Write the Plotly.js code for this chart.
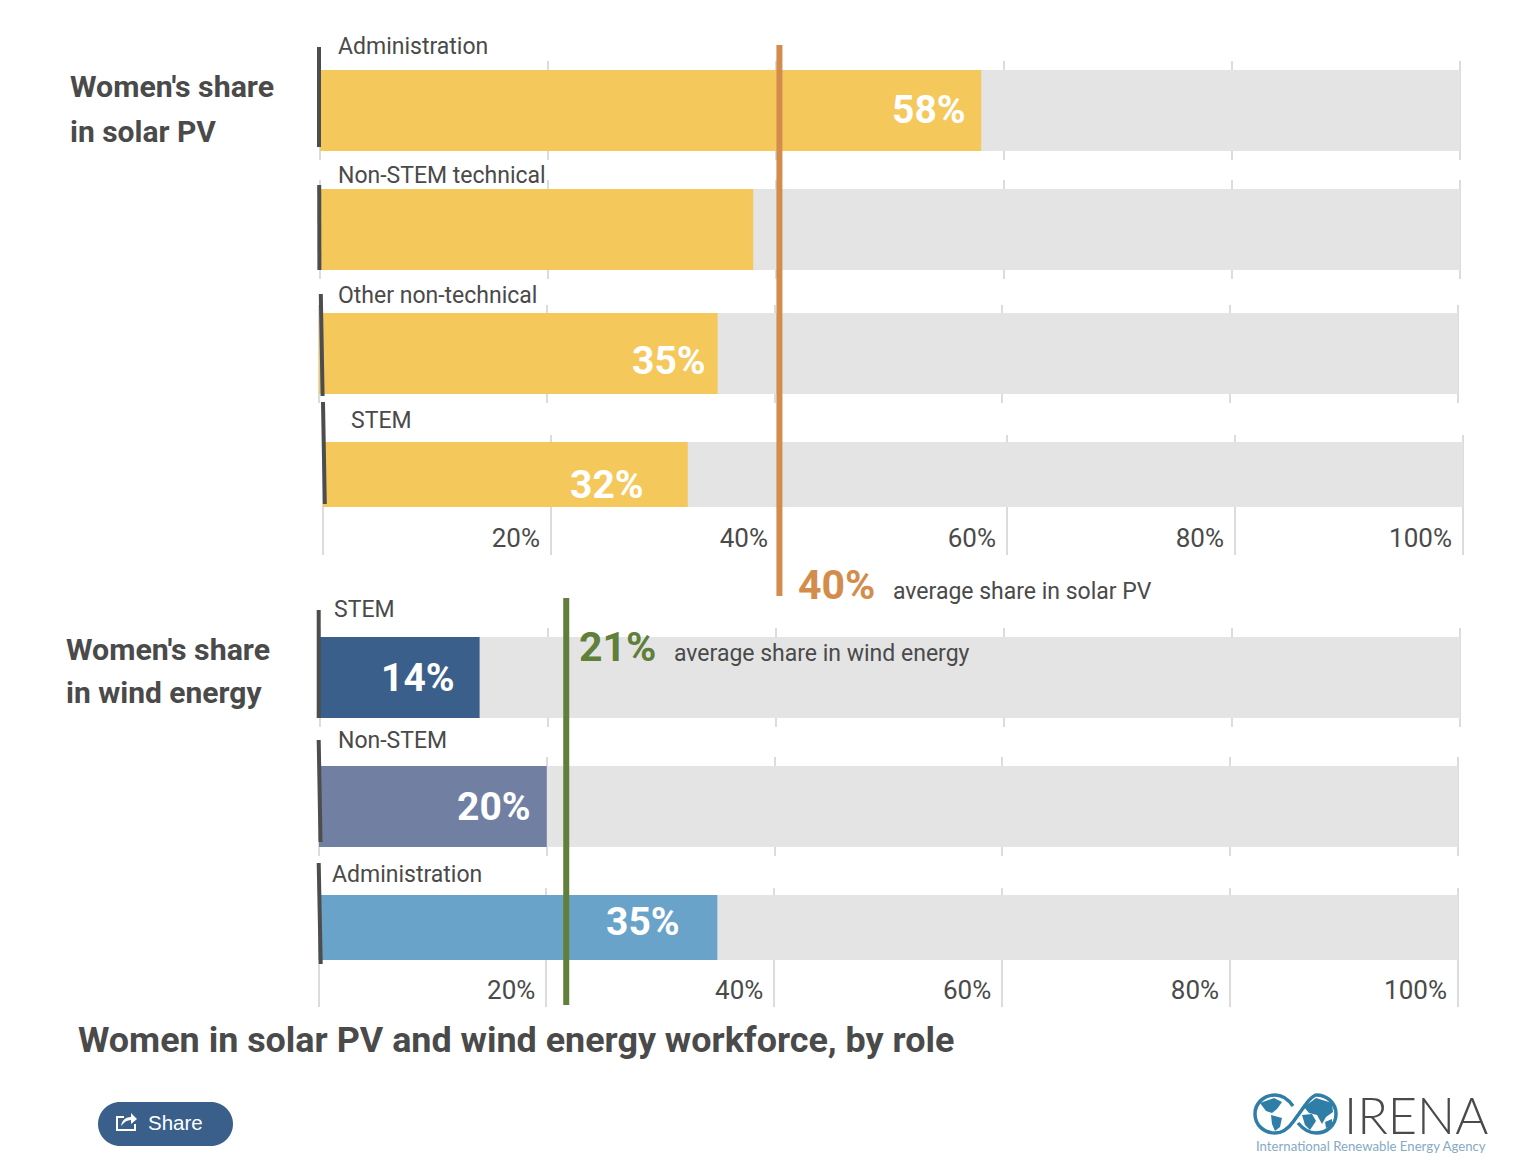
<!DOCTYPE html>
<html>
<head>
<meta charset="utf-8">
<script src="https://cdn.plot.ly/plotly-3.0.1.min.js"></script>
<style>html,body{margin:0;padding:0;background:#fff;overflow:hidden}#chart{width:1522px;height:1160px}</style>
</head>
<body>
<div id="chart"></div>
<script>
// ---- data ----
const solarRoles = ["Administration", "Non-STEM technical", "Other non-technical", "STEM"];
const solarShares = [58, 38, 35, 32];
const solarLabels = ["58%", "", "35%", "32%"];
const windRoles = ["STEM", "Non-STEM", "Administration"];
const windShares = [14, 20, 35];
const windLabels = ["14%", "20%", "35%"];
const fullScale = 100;
const tickValues = [0, 20, 40, 60, 80, 100];
const tickLabels = ["", "20%", "40%", "60%", "80%", "100%"];
const solarAverageLabel = "40%";
const solarAverageLine = 40.3;
const windAverageLabel = "21%";
const windAverageLine = 21.6;
const solarAverageText = "average share in solar PV";
const windAverageText = "average share in wind energy";
const titleText = "Women in solar PV and wind energy workforce, by role";

// ---- layout table (pixels) ----
const W = 1522, H = 1160;
const FONT = "Roboto, sans-serif";
const INK = "#4a4a4a";
const SOLAR = "#f5c85c", WIND1 = "#3a5f8a", WIND2 = "#717fa3", WIND3 = "#69a3c9";
const rows = [
  {x0:320,x1:1460,gt:61, gb:160, bt:70, bb:151, lab:337,laby:46, tick:false,color:SOLAR,sx:-13,sy:0, ax:[319,47,319,147]},
  {x0:320,x1:1460,gt:180,gb:279, bt:189,bb:270, lab:337,laby:175,tick:false,color:SOLAR,sx:-13,sy:0, ax:[319.2,185,319.4,270]},
  {x0:319,x1:1458,gt:305,gb:403, bt:313,bb:394, lab:337,laby:295,tick:false,color:SOLAR,sx:-10,sy:-7, ax:[320.8,294,322.6,396]},
  {x0:323,x1:1463,gt:435,gb:555, bt:442,bb:507, lab:350,laby:421,tick:true, color:SOLAR,sx:-42,sy:-10,ax:[323,402,324.8,504]},
  {x0:320,x1:1460,gt:628,gb:727, bt:637,bb:718, lab:333,laby:609,tick:false,color:WIND1,sx:-23,sy:0, ax:[318.7,610,318.7,718]},
  {x0:319,x1:1458,gt:757,gb:856, bt:766,bb:847, lab:337,laby:740,tick:false,color:WIND2,sx:-14,sy:0, ax:[318.7,740,320.5,842]},
  {x0:318.5,x1:1458,gt:888,gb:1007,bt:895,bb:960, lab:331,laby:874,tick:true, color:WIND3,sx:-35,sy:6,ax:[318.7,863,320.7,964]}
];
const roles = solarRoles.concat(windRoles);
const shares = solarShares.concat(windShares);
const valueLabels = solarLabels.concat(windLabels);
const pad = 0.25; // axis range slack so the 0% and 100% gridlines are drawn

const traces = [], shapes = [], annotations = [];
const layout = {
  width:W, height:H, margin:{l:0,r:0,t:0,b:0}, paper_bgcolor:"#fff", plot_bgcolor:"rgba(0,0,0,0)",
  barmode:"overlay", showlegend:false, hovermode:false, font:{family:FONT,color:INK}
};
const px = (x,y,text,size,opt={}) => annotations.push(Object.assign({
  xref:"paper", yref:"paper", x:x/W, y:1-y/H, text, showarrow:false, xanchor:"left", yanchor:"middle",
  borderpad:0, font:{family:FONT,size,color:INK}
},opt));

rows.forEach((r,i)=>{
  const n = i+1, xn = "x"+n, yn = "y"+n;
  const h = r.bb-r.bt, c = (r.bt+r.bb)/2;
  const slack = pad*(r.x1-r.x0)/fullScale;
  layout["xaxis"+n] = {
    domain:[(r.x0-slack)/W,(r.x1+slack)/W], range:[-pad,fullScale+pad], anchor:yn, fixedrange:true, zeroline:false,
    showline:false, showgrid:true, gridcolor:"#dcdcdc", gridwidth:2, ticks:"",
    tickmode:"array", tickvals:tickValues, ticktext:tickLabels, showticklabels:r.tick,
    ticklabelposition:"inside left", ticklabelshift:-11, ticklabelstandoff:-3,
    tickfont:{family:FONT,size:26,color:INK}
  };
  layout["yaxis"+n] = {
    domain:[1-r.gb/H,1-r.gt/H], type:"category", anchor:xn, fixedrange:true, visible:false,
    range:[-(r.gb-c)/h,(c-r.gt)/h]
  };
  traces.push({type:"bar",orientation:"h",x:[fullScale],y:[roles[i]],width:1,xaxis:xn,yaxis:yn,marker:{color:"#e4e4e4"},hoverinfo:"skip"});
  traces.push({type:"bar",orientation:"h",x:[shares[i]],y:[roles[i]],width:1,xaxis:xn,yaxis:yn,marker:{color:r.color},hoverinfo:"skip"});
  if(valueLabels[i]) annotations.push({
    xref:xn,yref:yn,x:shares[i],y:roles[i],text:valueLabels[i],showarrow:false,
    xanchor:"right",yanchor:"middle",xshift:r.sx,yshift:r.sy,
    font:{family:FONT,size:39,color:"#fff",weight:700}
  });
  px(r.lab,r.laby,roles[i],23);
  const a = r.ax;
  shapes.push({type:"line",xref:"paper",yref:"paper",x0:a[0]/W,y0:1-a[1]/H,x1:a[2]/W,y1:1-a[3]/H,line:{color:"#4d4d4d",width:4}});
});

// average lines, positioned through the row axes
shapes.push({type:"line",xref:"x",yref:"paper",x0:solarAverageLine,x1:solarAverageLine,y0:1-45/H,y1:1-596/H,line:{color:"#d48c4c",width:6}});
shapes.push({type:"line",xref:"x5",yref:"paper",x0:windAverageLine,x1:windAverageLine,y0:1-598/H,y1:1-1005/H,line:{color:"#5f7f3a",width:6}});

const bold = (c,s)=>({font:{family:FONT,size:s,color:c,weight:700}});
px(797,585,solarAverageLabel,41,bold("#d48c4c",41));
px(892,591,solarAverageText,23);
px(578,647,windAverageLabel,41,bold("#5f7f3a",41));
px(673,653,windAverageText,23);
px(69,87,"Women's share",30.3,bold(INK,30.3));
px(69,131,"in solar PV",30,bold(INK,30));
px(65,649,"Women's share",30.3,bold(INK,30.3));
px(65,692,"in wind energy",30,bold(INK,30));
px(77,1040,titleText,35.9,bold(INK,35.9));

// Share button, in a hidden pixel-sized axis
layout.xaxis8 = {domain:[0,1],range:[0,W],visible:false,fixedrange:true,anchor:"y8"};
layout.yaxis8 = {domain:[0,1],range:[H,0],visible:false,fixedrange:true,anchor:"x8"};
traces.push({type:"scatter",mode:"none",x:[0],y:[0],xaxis:"x8",yaxis:"y8",hoverinfo:"skip"});
const deco = (path,fill,line,width)=>shapes.push({type:"path",xref:"x8",yref:"y8",path,fillcolor:fill||"rgba(0,0,0,0)",line:{color:line||"rgba(0,0,0,0)",width:width||0}});
deco("M120,1102 L211,1102 C223,1102 233,1112 233,1124 C233,1136 223,1146 211,1146 L120,1146 C108,1146 98,1136 98,1124 C98,1112 108,1102 120,1102 Z","#3a5f8a");
deco("M124,1117 L117,1117 L117,1130 L135,1130 L135,1124","",  "#fff",2);
deco("M121,1126 C122,1120 126,1117 131,1117 L131,1113 L137,1119 L131,1124 L131,1120 C127,1120 124,1122 121,1126 Z","#fff");
px(147,1122,"Share",20.5,{font:{family:"Liberation Sans, Arial, sans-serif",size:20.5,color:"#fff"}});

// IRENA logo
const B = "#2f7ea8";
deco("M1275,1095 C1264,1095 1255,1103 1255,1114 C1255,1125 1264,1133 1275,1133 C1283,1133 1288,1129 1293,1122 L1306,1104 C1310,1098 1315,1095 1316,1095 C1327,1095 1336,1103 1336,1114 C1336,1125 1327,1133 1316,1133 C1308,1133 1303,1129 1298,1123","",B,3.5);
deco("M1275,1095 C1283,1095 1288,1099 1293,1106","",B,3.5);
deco("M1260,1103 L1274,1098 L1282,1102 L1277,1109 L1272,1113 L1266,1111 Z",B);
deco("M1271,1115 L1282,1118 L1280,1127 L1275,1131 L1272,1124 Z",B);
deco("M1304,1107 L1316,1098 L1332,1103 L1333,1112 L1326,1117 L1322,1124 L1317,1115 L1309,1113 Z",B);
deco("M1302,1115 L1312,1114 L1316,1121 L1310,1130 L1305,1125 Z",B);
deco("M1325,1122 L1332,1119 L1332,1126 L1326,1128 Z",B);
px(1343,1114,"IRENA",50.5,{font:{family:"Lato, sans-serif",size:50.5,color:"#4a4a4a",weight:300}});
px(1255,1146,"International Renewable Energy Agency",13.2,{font:{family:"Lato, sans-serif",size:13.2,color:"#86aac4"}});

layout.shapes = shapes;
layout.annotations = annotations;
Plotly.newPlot("chart",traces,layout,{displayModeBar:false,staticPlot:true});
</script>
</body>
</html>
